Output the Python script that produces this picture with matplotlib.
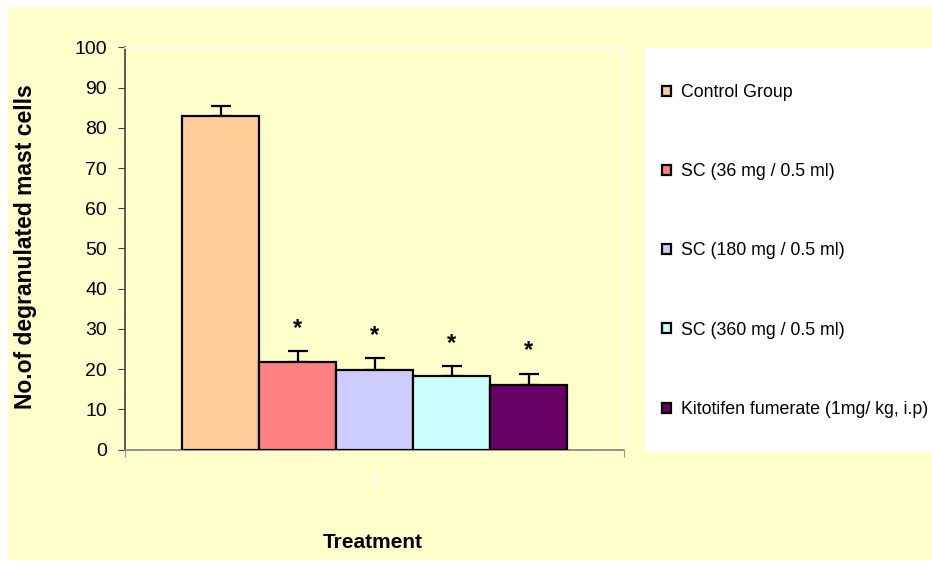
import matplotlib
matplotlib.use("Agg")
import matplotlib.pyplot as plt
from matplotlib.patches import Rectangle

plt.rcParams['font.family'] = ['Liberation Sans', 'DejaVu Sans']

groups = ["Control Group", "SC (36 mg / 0.5 ml)", "SC (180 mg / 0.5 ml)",
          "SC (360 mg / 0.5 ml)", "Kitotifen fumerate (1mg/ kg, i.p)"]
means = [83.0, 21.7, 19.8, 18.4, 16.0]
errors = [2.5, 2.9, 2.9, 2.4, 2.9]
significant = [False, True, True, True, True]
colors = ["#FFCC99", "#FF8080", "#CCCCFF", "#CCFFFF", "#660066"]
yticks = list(range(0, 101, 10))
category = "1"

W, H = 932, 561
fig = plt.figure(figsize=(W / 100, H / 100), dpi=100)
fig.patch.set_facecolor("white")
bg = Rectangle((8 / W, 1 - 560 / H), (W - 8) / W, (560 - 7) / H,
               transform=fig.transFigure, facecolor="#FFFFCC", edgecolor="none", zorder=-2)
fig.patches.append(bg)
leg_bg = Rectangle((645 / W, 1 - 452 / H), (W - 645) / W, (452 - 48) / H,
                   transform=fig.transFigure, facecolor="white", edgecolor="none", zorder=-1)
fig.patches.append(leg_bg)

ax = fig.add_axes([125 / W, 1 - 449.5 / H, (624 - 125) / W, (449.5 - 47.5) / H])
ax.set_facecolor("#FFFFCC")

bw = 77 / 499
n = len(means)
handles = []
for i in range(n):
    x = 1 + (i - (n - 1) / 2) * bw
    b = ax.bar(x, means[i], width=bw, color=colors[i], edgecolor="black",
               linewidth=1.6, zorder=3, label=groups[i])
    handles.append(b)
    ax.errorbar(x, means[i], yerr=[[0], [errors[i]]], fmt="none", ecolor="black",
                elinewidth=1.6, capsize=7, capthick=1.6, zorder=2)
    if significant[i]:
        ax.text(x, means[i] + errors[i] + 5.6, "*", ha="center", va="center",
                fontsize=17, fontweight="bold", color="black", zorder=4)

ax.set_xlim(0.5, 1.5)
ax.set_ylim(0, 100)
ax.set_yticks(yticks)
ax.set_yticklabels([str(t) for t in yticks], fontsize=14)
ax.set_xticks([1])
ax.set_xticklabels([category], fontsize=14, color="white")
ax.set_xticks([0.5, 1.5], minor=True)
ax.tick_params(axis="x", which="major", length=0, pad=16)
ax.tick_params(axis="x", which="minor", length=5, color="#808080", direction="out")
ax.tick_params(axis="y", length=5, color="#404040", direction="out", pad=8)

ax.spines["left"].set_color("#404040")
ax.spines["bottom"].set_color("#808080")
ax.spines["top"].set_color("white")
ax.spines["right"].set_color("white")
for s in ax.spines.values():
    s.set_linewidth(1.2)

ax.set_ylabel("No.of degranulated mast cells", fontsize=16.5, fontweight="bold")
ax.yaxis.set_label_coords(-(125 - 37) / 499, 0.505)
fig.text(373 / W, 1 - 543 / H, "Treatment", fontsize=15, fontweight="bold",
         ha="center", va="center")

leg = fig.legend(handles=handles, labels=groups, loc="upper left",
                 bbox_to_anchor=(662 / W, 1 - 84 / H), frameon=False,
                 fontsize=12.8, handlelength=0.5, handleheight=0.5,
                 handletextpad=0.55, labelspacing=3.5, borderpad=0, borderaxespad=0)
leg.set_zorder(5)

fig.savefig("out.png", dpi=100, facecolor=fig.get_facecolor())
